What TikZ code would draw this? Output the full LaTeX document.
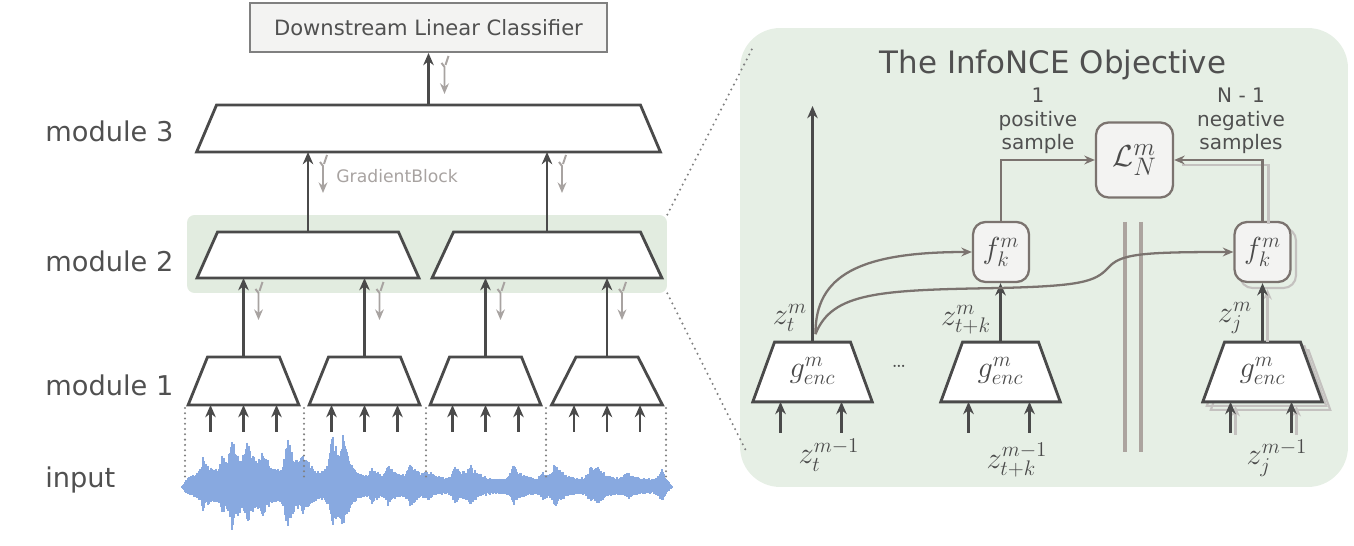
\documentclass[tikz,border=0pt]{standalone}
\usepackage{fontspec}
\setsansfont{DejaVu Sans}
\usetikzlibrary{shapes.geometric, arrows.meta, calc}
\DeclareMathSizes{16}{16}{13}{10}
\DeclareMathSizes{19}{19}{15}{12}

\definecolor{dark}{HTML}{4A4A4A}
\definecolor{brownish}{HTML}{7B736F}
\definecolor{gbcol}{HTML}{A8A3A1}
\definecolor{panelgreen}{HTML}{E6EFE5}
\definecolor{hlgreen}{HTML}{E2ECE0}
\definecolor{wavecol}{HTML}{88A9E0}
\definecolor{boxfill}{HTML}{F3F3F2}
\definecolor{barriercol}{HTML}{ACA49F}
\definecolor{txt}{HTML}{505050}
\definecolor{shade}{HTML}{C4C1BF}

\tikzstyle{module} = [trapezium, draw=dark, line width=1.6pt, fill=white, outer sep=0pt]
\tikzstyle{m1size} = [inner xsep=0.72cm, inner ysep=0.48cm, trapezium angle=68]
\tikzstyle{encbox} = [module, inner xsep=0.76cm, inner ysep=10pt, text height=10pt, text depth=4pt, trapezium angle=70, text=dark, font=\fontsize{16}{18}\selectfont]
\tikzstyle{fbox} = [rectangle, rounded corners=2.5mm, draw=brownish, fill=boxfill, line width=1.3pt, minimum width=1.12cm, minimum height=1.2cm, inner sep=0pt, text=dark, font=\fontsize{16}{18}\selectfont]
\tikzstyle{arrow} = [draw=dark, line width=1.6pt, -{Stealth[length=7pt,width=6pt]}]
\tikzstyle{softarrow} = [draw=brownish, line width=1.3pt, -{Stealth[length=6pt,width=5pt]}]
\tikzstyle{shadowline} = [draw=shade, line width=1.2pt]
\tikzstyle{gbline} = [draw=gbcol, line width=1.1pt]
\tikzstyle{sepline} = [draw=gray, line width=1.3pt, line cap=round, dash pattern=on 0pt off 3pt]
\tikzstyle{sidelbl} = [text=txt, font=\sffamily\fontsize{15.5}{18}\selectfont, anchor=base west, inner sep=0pt]
\tikzstyle{smalltxt} = [text=txt, font=\sffamily\fontsize{11.4}{13.5}\selectfont, align=center, inner sep=0pt]
\tikzstyle{mathlbl} = [text=dark, font=\fontsize{16}{18}\selectfont, inner sep=0pt]
\tikzstyle{wavestroke} = [draw=wavecol, line width=0.8pt]

\tikzset{gblock/.pic={
    \draw[gbline] (4,0) -- (1,9);
    \draw[gbline, -{Stealth[length=6pt,width=5pt]}] (-3,7) -- (0,11) -- (0,38);
}}

\begin{document}
\begin{tikzpicture}[x=0.02cm, y=-0.02cm]
    \useasboundingbox (0,0) rectangle (1354,546);

        % Backgrounds
        \node (panel) [rectangle, rounded corners=0.8cm, fill=panelgreen, minimum width=12.16cm, minimum height=9.18cm] at (1044,257.5) {};
        \node (hl) [rectangle, rounded corners=1.5mm, fill=hlgreen, minimum width=9.6cm, minimum height=1.56cm] at (427,254) {};

        % Waveform
        \pgfmathsetseed{7}
        \foreach \x in {182,183,...,672}{
            \pgfmathsetmacro\base{(\x<350)*4+8}
            \xdef\amp{\base}
            \foreach \o/\a in {203/18,222/18,232/38,247/30,262/22,287/40,303/18,332/42,343/28,372/12,388/16,410/18,427/8,455/16,470/13,513/16,543/8,555/16,590/12,598/9,627/8,662/14}{
                \pgfmathparse{\amp+\a*exp(-min(max((\o-\x)/3,(\x-\o)/9),12))}
                \xdef\amp{\pgfmathresult}
            }
            \pgfmathsetmacro\taper{min(1,(\x-181)/8,(673-\x)/12)}
            \pgfmathsetmacro\up{\taper*\amp*(0.72+0.28*rnd)}
            \pgfmathsetmacro\dn{0.8*\taper*\amp*(0.72+0.28*rnd)}
            \draw[wavestroke] (\x,487-\up) -- (\x,487+\dn);
        }
        \foreach \x in {185,304,426,546,666}
            \draw[sepline] (\x,408) -- (\x,480);

        % Left nodes
        \node (clf) [rectangle, draw=gray, line width=1.1pt, fill=boxfill, minimum width=7.14cm, minimum height=0.98cm, text=txt, font=\sffamily\fontsize{12}{14}\selectfont] at (428.5,27.5) {Downstream Linear Classifier};
        \node (m3) [module, inner xsep=4.24cm, inner ysep=0.47cm, trapezium angle=67] at (428.5,128.5) {};
        \node (m2a) [module, inner xsep=1.81cm, inner ysep=0.46cm, trapezium angle=66] at (308,255) {};
        \node (m2b) [module, inner xsep=1.87cm, inner ysep=0.46cm, trapezium angle=65] at (547,255) {};
        \node (m1a) [module, m1size] at (243.5,381) {};
        \node (m1b) [module, m1size] at (364.5,381) {};
        \node (m1c) [module, m1size] at (485.5,381) {};
        \node (m1d) [module, m1size, inner xsep=0.62cm, trapezium angle=63] at (607,381) {};

        \node (lab3) [sidelbl] at (45,142) {module 3};
        \node (lab2) [sidelbl] at (45,272) {module 2};
        \node (lab1) [sidelbl] at (45,396) {module 1};
        \node (labin) [sidelbl] at (45,487) {input};
        \node (gbtext) [anchor=west, inner sep=0pt, text=gbcol, font=\sffamily\fontsize{9.8}{12}\selectfont] at (336,176) {GradientBlock};

        % Left arrows
        \draw [arrow] (m3.north) -- (clf.south);
        \draw [arrow] (m2a.north) -- (m2a.north |- m3.south);
        \draw [arrow] (m2b.north) -- (m2b.north |- m3.south);
        \draw [arrow] (m1a.north) -- (m1a.north |- m2a.south);
        \draw [arrow] (m1b.north) -- (m1b.north |- m2a.south);
        \draw [arrow] (m1c.north) -- (m1c.north |- m2b.south);
        \draw [arrow] (m1d.north) -- (m1d.north |- m2b.south);
        \foreach \m in {m1a,m1b,m1c,m1d}
            \foreach \d in {-33,0,33}
                \draw [arrow] ($(\m.south)+(\d,27)$) -- ($(\m.south)+(\d,0)$);

        % GradientBlock marks
        \pic at ($(clf.south)+(16,3)$) {gblock};
        \pic at ($(m2a.north |- m3.south)+(15,3)$) {gblock};
        \pic at ($(m2b.north |- m3.south)+(15,3)$) {gblock};
        \foreach \m/\n in {m1a/m2a,m1b/m2a,m1c/m2b,m1d/m2b}
            \pic at ($(\m.north |- \n.south)+(15,4)$) {gblock};

        % Zoom lines
        \draw [sepline, dash pattern=on 0pt off 3.2pt] (hl.north east) -- ($(panel.north west)+(13,20)$);
        \draw [sepline, dash pattern=on 0pt off 3.2pt] (hl.south east) -- ($(panel.south west)+(7,-35)$);

        % Right panel
        \node (title) [text=txt, font=\sffamily\fontsize{17.6}{20}\selectfont] at (1053,65) {The InfoNCE Objective};
        \node (pos) [smalltxt] at (1038,121) {1\\positive\\sample};
        \node (neg) [smalltxt] at (1241,121) {N - 1\\negative\\samples};

        \draw [barriercol, line width=2.3pt] (1125,222) -- (1125,452);
        \draw [barriercol, line width=2.3pt] (1141,222) -- (1141,452);

        % shadow copies of the negative column
        \node (genc3b) [encbox, draw=shade, line width=1.2pt, fill=none] at (1270.5,380) {};
        \node (genc3a) [encbox, draw=shade, line width=1.2pt, fill=none] at (1266.5,376) {};
        \node (fk2b) [fbox, draw=shade, fill=none, line width=1.2pt] at (1268,258) {};

        \node (genc1) [encbox] at (812.5,372) {\makebox[0pt]{$g^m_{enc}$}};
        \node (genc2) [encbox] at (1000.5,372) {\makebox[0pt]{$g^m_{enc}$}};
        \node (genc3) [encbox] at (1262.5,372) {\makebox[0pt]{$g^m_{enc}$}};
        \node (fk1) [fbox] at (1001,252) {$f^m_k$};
        \node (fk2) [fbox] at (1262.5,252) {$f^m_k$};
        \node (loss) [fbox, minimum width=1.54cm, minimum height=1.5cm, font=\fontsize{19}{21}\selectfont] at (1134.5,160) {$\mathcal{L}^m_N$};
        \node (dots) [text=dark, font=\fontsize{13}{15}\selectfont] at (899,366) {\ldots};

        \node (lzt) [mathlbl] at (790,318) {$z^m_t$};
        \node (lztk) [mathlbl] at (966,320) {$z^m_{t+k}$};
        \node (lzj) [mathlbl] at (1235,318) {$z^m_j$};
        \node (lzt1) [mathlbl] at (829,455) {$z^{m-1}_t$};
        \node (lztk1) [mathlbl] at (1017,460) {$z^{m-1}_{t+k}$};
        \node (lzj1) [mathlbl] at (1277,458) {$z^{m-1}_j$};

        % Right arrows
        \coordinate (ztop) at (812.5,106);
        \coordinate (zt) at ($(genc1.north)+(3,-8)$);
        \draw [arrow] (genc1.north) -- (ztop);
        \draw [arrow] (genc2.north) -- (genc2.north |- fk1.south);
        \draw [shadowline, -{Stealth[length=6pt,width=5pt]}] ($(genc3.north)+(5,0)$) -- ($(genc3.north |- fk2.south)+(5,6)$);
        \draw [arrow] (genc3.north) -- (genc3.north |- fk2.south);
        \foreach \g in {genc1,genc2}
            \foreach \d in {-32,29}
                \draw [arrow] ($(\g.south)+(\d,31)$) -- ($(\g.south)+(\d,0)$);
        \foreach \d in {-32,29}{
            \draw [shadowline, -{Stealth[length=6pt,width=5pt]}] ($(genc3.south)+(\d+5,33)$) -- ($(genc3.south)+(\d+5,4)$);
            \draw [arrow] ($(genc3.south)+(\d,31)$) -- ($(genc3.south)+(\d,0)$);
        }

        \draw [softarrow] (zt) .. controls (815,275) and (860,252) .. (fk1.west);
        \draw [softarrow] (zt) .. controls (832,292) and (880,290) .. (1000,288) .. controls (1080,286) and (1095,282) .. (1108,268) .. controls (1120,254) and (1140,252) .. (fk2.west);

        \draw [softarrow] (fk1.north) |- (loss.west);
        \draw [shadowline] ($(fk2.north)+(6,3)$) |- ($(loss.east)+(8,5)$);
        \draw [softarrow] (fk2.north) |- (loss.east);

\end{tikzpicture}
\end{document}
